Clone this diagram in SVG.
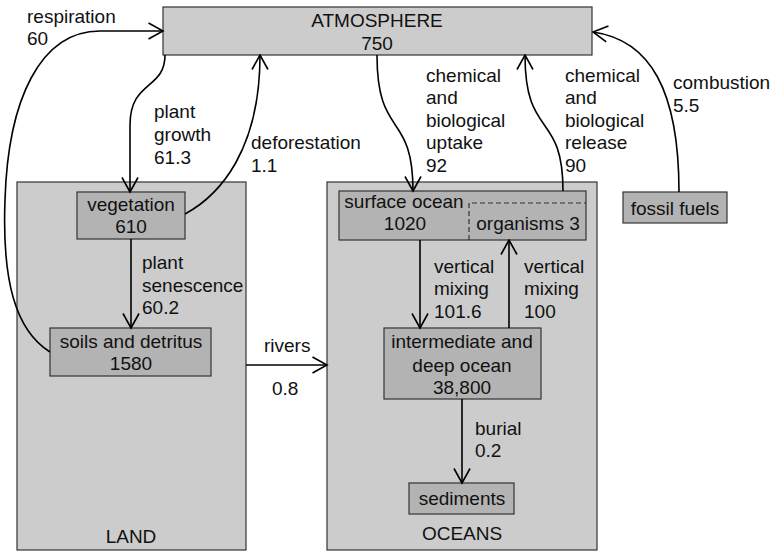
<svg xmlns="http://www.w3.org/2000/svg" width="778" height="551" viewBox="0 0 778 551">
<defs>
<style>
text{font-family:"Liberation Sans",Arial,sans-serif;font-size:19px;fill:#111}
.c{text-anchor:middle}
.box{fill:#cccccc;stroke:#333;stroke-width:1.2}
.inner{fill:#b3b3b3;stroke:#333;stroke-width:1.2}
.dash{fill:none;stroke:#333;stroke-width:1.2;stroke-dasharray:5,3}
.ln{fill:none;stroke:#000;stroke-width:1.6;marker-end:url(#ah)}
</style>
<marker id="ah" markerUnits="userSpaceOnUse" markerWidth="17" markerHeight="18" refX="15.5" refY="9" orient="auto" viewBox="0 0 17 18">
<path d="M1,1 L15.5,9 L1,17" fill="none" stroke="#000" stroke-width="1.6"/>
</marker>
</defs>
<g id="land">
<rect class="box" x="17" y="182" width="229" height="368"/>
<text class="c" x="131" y="543">LAND</text>
</g>
<g id="oceans">
<rect class="box" x="327" y="182" width="270" height="368"/>
<text class="c" x="462" y="540">OCEANS</text>
</g>
<g id="atmosphere">
<rect class="box" x="163" y="7" width="429" height="48"/>
<text class="c" x="377" y="27">ATMOSPHERE</text>
<text class="c" x="377" y="50">750</text>
</g>
<g id="vegetation">
<rect class="inner" x="77" y="192" width="108" height="47"/>
<text class="c" x="131" y="211">vegetation</text>
<text class="c" x="131" y="233">610</text>
</g>
<g id="soils">
<rect class="inner" x="50" y="328" width="161" height="48"/>
<text class="c" x="131" y="348">soils and detritus</text>
<text class="c" x="131" y="370">1580</text>
</g>
<g id="surface-ocean">
<rect class="inner" x="339" y="191" width="247" height="49"/>
<text class="c" x="404" y="208">surface ocean</text>
<text class="c" x="405" y="230">1020</text>
</g>
<g id="organisms">
<path class="dash" d="M469,240 L469,203 L586,203"/>
<text class="c" x="528" y="230">organisms 3</text>
</g>
<g id="deep-ocean">
<rect class="inner" x="384" y="328" width="157" height="71"/>
<text class="c" x="462" y="348">intermediate and</text>
<text class="c" x="462" y="372">deep ocean</text>
<text class="c" x="462" y="394">38,800</text>
</g>
<g id="sediments">
<rect class="inner" x="409" y="483" width="105" height="31"/>
<text class="c" x="462" y="505">sediments</text>
</g>
<g id="fossil-fuels">
<rect class="inner" x="623" y="192" width="104" height="31"/>
<text class="c" x="675" y="215">fossil fuels</text>
</g>
<g id="connectors">
<path class="ln" d="M50,352 C15,330 2,280 5,200 C8,100 40,31 100,31 L163,31"/>
<path class="ln" d="M165,55 C165,90 130,80 130,125 L130,192"/>
<path class="ln" d="M185,214 C220,195 260,150 260,55"/>
<path class="ln" d="M131,239 L131,328"/>
<path class="ln" d="M246,365 L327,365"/>
<path class="ln" d="M377,55 C377,140 413,110 413,191"/>
<path class="ln" d="M563,191 C563,110 525,140 525,55"/>
<path class="ln" d="M679,192 C679,90 650,40 593,32"/>
<path class="ln" d="M420,240 L420,328"/>
<path class="ln" d="M509,328 L509,240"/>
<path class="ln" d="M462,399 L462,483"/>
</g>
<g id="labels">
<text x="27" y="23">respiration</text>
<text x="27" y="45">60</text>
<text x="154" y="118">plant</text>
<text x="154" y="141">growth</text>
<text x="154" y="164">61.3</text>
<text x="251" y="149">deforestation</text>
<text x="251" y="172">1.1</text>
<text x="426" y="82">chemical</text>
<text x="426" y="104">and</text>
<text x="426" y="127">biological</text>
<text x="426" y="149">uptake</text>
<text x="426" y="172">92</text>
<text x="565" y="82">chemical</text>
<text x="565" y="104">and</text>
<text x="565" y="127">biological</text>
<text x="565" y="149">release</text>
<text x="565" y="172">90</text>
<text x="673" y="89">combustion</text>
<text x="673" y="112">5.5</text>
<text x="142" y="269">plant</text>
<text x="142" y="292">senescence</text>
<text x="142" y="314">60.2</text>
<text x="264" y="352">rivers</text>
<text x="272" y="395">0.8</text>
<text x="434" y="273">vertical</text>
<text x="434" y="295">mixing</text>
<text x="434" y="318">101.6</text>
<text x="524" y="273">vertical</text>
<text x="524" y="295">mixing</text>
<text x="524" y="318">100</text>
<text x="475" y="435">burial</text>
<text x="475" y="457">0.2</text>
</g>
</svg>
